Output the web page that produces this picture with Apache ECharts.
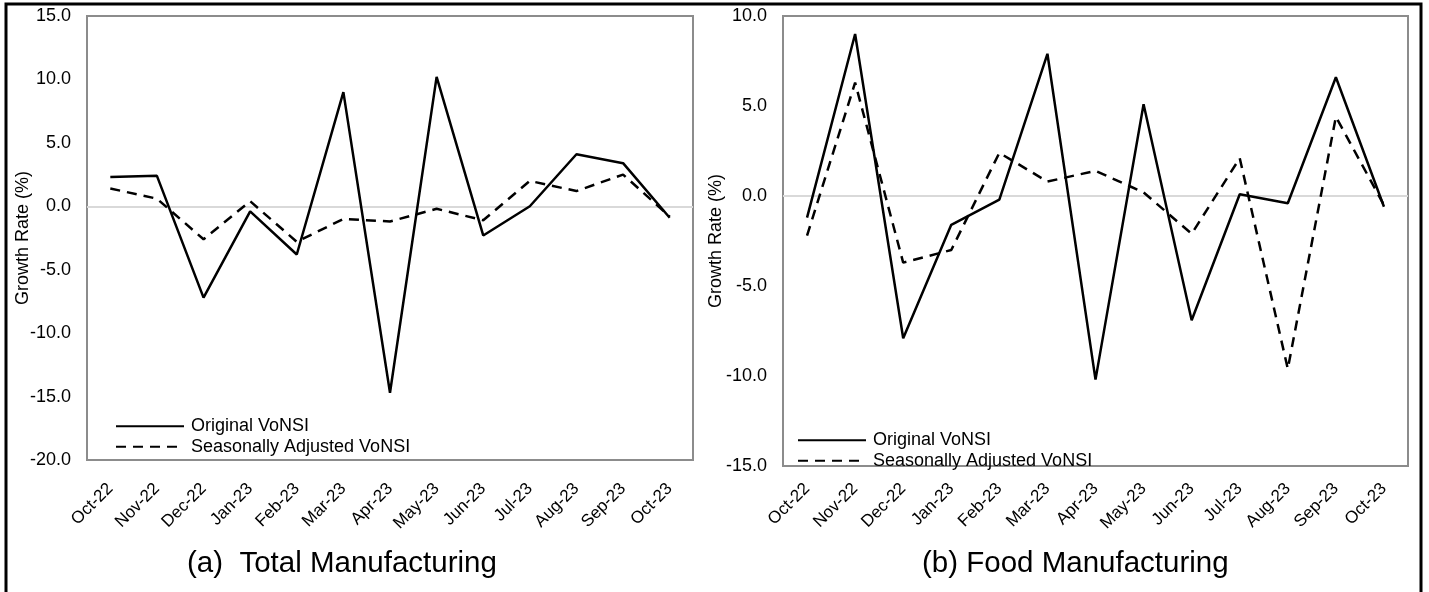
<!DOCTYPE html>
<html>
<head>
<meta charset="utf-8">
<script src="https://cdn.jsdelivr.net/npm/echarts@6/dist/echarts.min.js"></script>
<style>
html,body{margin:0;padding:0;background:#fff;}
#chart{width:1429px;height:592px;}
</style>
</head>
<body>
<div id="chart"></div>
<script>
const categories = ['Oct-22','Nov-22','Dec-22','Jan-23','Feb-23','Mar-23','Apr-23','May-23','Jun-23','Jul-23','Aug-23','Sep-23','Oct-23'];
const totalOriginal = [2.3, 2.4, -7.2, -0.4, -3.8, 9.0, -14.7, 10.2, -2.3, 0.0, 4.1, 3.4, -0.9];
const totalSA = [1.4, 0.6, -2.6, 0.4, -2.8, -1.0, -1.2, -0.2, -1.1, 2.0, 1.2, 2.5, -0.8];
const foodOriginal = [-1.2, 9.0, -7.9, -1.6, -0.2, 7.9, -10.2, 5.1, -6.9, 0.1, -0.4, 6.6, -0.6];
const foodSA = [-2.2, 6.3, -3.7, -3.0, 2.4, 0.8, 1.4, 0.2, -2.1, 2.1, -9.6, 4.4, -0.5];
const seriesNames = ['Original VoNSI', 'Seasonally Adjusted VoNSI'];
const panelTitles = ['(a)  Total Manufacturing', '(b) Food Manufacturing'];
const yAxisName = 'Growth Rate (%)';

const FONT = "'Liberation Sans', Arial, sans-serif";
const chart = echarts.init(document.getElementById('chart'));

function xAxis(gridIndex, margin) {
  return {
    type: 'category', gridIndex, data: categories, boundaryGap: true,
    axisLine: {show: false}, axisTick: {show: false},
    axisLabel: {rotate: 45, fontSize: 17, color: '#000', fontFamily: FONT, margin, interval: 0}
  };
}
function yAxis(gridIndex, min, max, gap) {
  return {
    type: 'value', gridIndex, min, max, interval: 5,
    axisLine: {show: false}, axisTick: {show: false}, splitLine: {show: false},
    axisLabel: {fontSize: 18, color: '#000', fontFamily: FONT, margin: 16, formatter: v => v.toFixed(1)},
    name: yAxisName, nameLocation: 'middle', nameGap: gap, nameMoveOverlap: false,
    nameTextStyle: {fontSize: 18, color: '#000', fontFamily: FONT}
  };
}
function lineSeries(name, data, idx, dashed, zero) {
  const s = {
    name, type: 'line', data, xAxisIndex: idx, yAxisIndex: idx,
    symbol: 'none', smooth: false, silent: true,
    lineStyle: {color: '#000', width: 2.5, type: dashed ? [10, 7] : 'solid'},
    itemStyle: {color: '#000'}, z: 3
  };
  if (zero) {
    s.markLine = {silent: true, symbol: 'none', label: {show: false},
      lineStyle: {color: '#d9d9d9', width: 2, type: 'solid'}, data: [{yAxis: 0}], z: 1};
  }
  return s;
}
function legend(left, top) {
  return {
    orient: 'vertical', left, top, padding: 0, itemWidth: 68, itemHeight: 14, itemGap: 0,
    data: seriesNames, selectedMode: false,
    itemStyle: {color: 'rgba(0,0,0,0)', borderWidth: 0, opacity: 0},
    textStyle: {fontSize: 18, lineHeight: 20.5, color: '#000', fontFamily: FONT, padding: [0,0,0,2]}
  };
}

chart.setOption({
  animation: false,
  backgroundColor: '#fff',
  grid: [
    {left: 87, top: 16, width: 606, height: 444, show: true, borderColor: '#8c8c8c', borderWidth: 2, backgroundColor: 'transparent'},
    {left: 783, top: 16, width: 625, height: 450, show: true, borderColor: '#8c8c8c', borderWidth: 2, backgroundColor: 'transparent'}
  ],
  xAxis: [xAxis(0, 26), xAxis(1, 20)],
  yAxis: [yAxis(0, -20, 15, 55), yAxis(1, -15, 10, 58)],
  legend: [legend(115, 416), legend(797, 430)],
  series: [
    lineSeries(seriesNames[0], totalOriginal, 0, false, true),
    lineSeries(seriesNames[1], totalSA, 0, true, false),
    lineSeries(seriesNames[0], foodOriginal, 1, false, true),
    lineSeries(seriesNames[1], foodSA, 1, true, false)
  ],
  graphic: [
    {type: 'rect', shape: {x: 6, y: 4, width: 1415, height: 600}, style: {fill: 'none', stroke: '#000', lineWidth: 3}, silent: true},
    {type: 'text', left: 187, top: 549, style: {text: panelTitles[0], fontSize: 29.5, fill: '#000', fontFamily: FONT}},
    {type: 'text', left: 922, top: 549, style: {text: panelTitles[1], fontSize: 29.5, fill: '#000', fontFamily: FONT}}
  ]
});
</script>
</body>
</html>
